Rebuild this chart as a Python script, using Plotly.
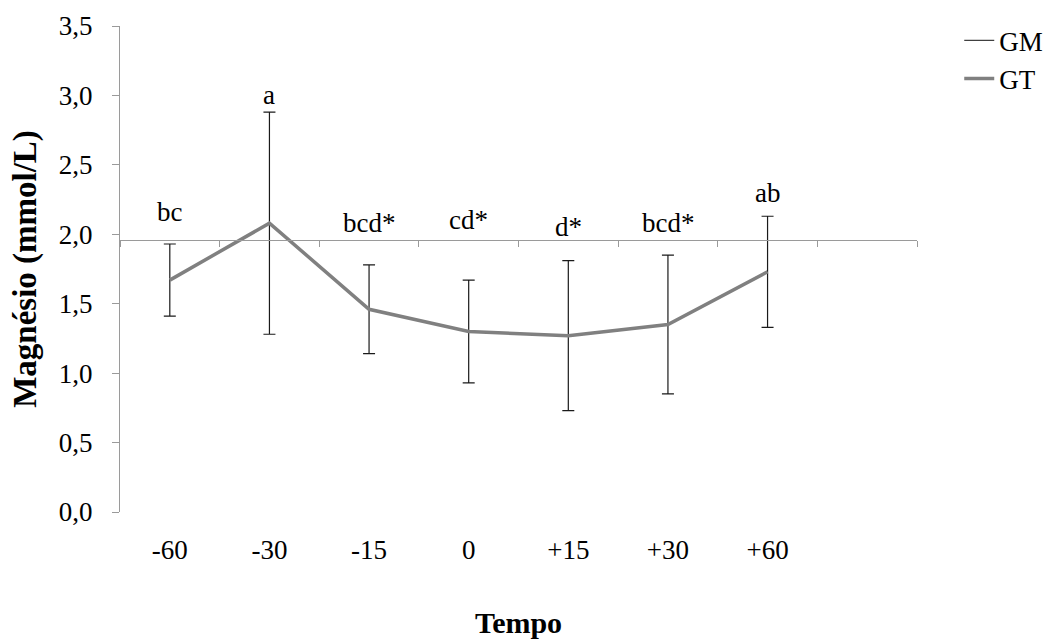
import plotly.graph_objects as go

# Sampling times (min) and magnesium means / SD for the GT group
tempos = ["-60", "-30", "-15", "0", "+15", "+30", "+60"]
gt_mean = [1.67, 2.08, 1.46, 1.30, 1.27, 1.35, 1.73]
gt_sd = [0.26, 0.80, 0.32, 0.37, 0.54, 0.50, 0.40]
letras = ["bc", "a", "bcd*", "cd*", "d*", "bcd*", "ab"]

# Vertical placement of the significance letters (mmol/L)
letra_y = [2.16, 3.00, 2.08, 2.10, 2.05, 2.08, 2.30]

Y_MAX = 3.5
X_CROSS = 1.96          # value where the category axis crosses the y axis
N_SLOTS = len(tempos) + 1  # one empty slot after +60

FONT = "Liberation Serif"
AXIS_GRAY = "#9a9a9a"
FS = 27
FS_TITLE = 30

xs = list(range(len(tempos)))

fig = go.Figure()

# GM: legend entry only
fig.add_trace(go.Scatter(
    x=[None], y=[None], mode="lines", name="GM",
    line=dict(color="#404040", width=1.3),
    xaxis="x", yaxis="y",
))

fig.add_trace(go.Scatter(
    x=xs, y=gt_mean, mode="lines", name="GT",
    line=dict(color="#808080", width=3.5),
    error_y=dict(type="data", array=gt_sd, visible=True,
                 color="#1a1a1a", thickness=1.2, width=6),
    xaxis="x2", yaxis="y",
))

for i, (t, yv) in enumerate(zip(letras, letra_y)):
    fig.add_annotation(x=i, y=yv, text=t, showarrow=False,
                       xref="x", yref="y",
                       font=dict(family=FONT, size=FS, color="#000"))

x_range = [-0.5, N_SLOTS - 0.5]
boundaries = [k - 0.5 for k in range(N_SLOTS + 1)]

fig.update_layout(
    width=1061, height=639,
    margin=dict(l=120, r=144, t=26, b=127, autoexpand=False),
    paper_bgcolor="white", plot_bgcolor="white",
    separators=", ",
    font=dict(family=FONT, size=FS, color="#000"),
    showlegend=True,
    legend=dict(x=1.053, y=1.02, xanchor="left", yanchor="top",
                font=dict(family=FONT, size=FS, color="#000"),
                bgcolor="rgba(0,0,0,0)", tracegroupgap=0),
    xaxis=dict(
        range=x_range, tickmode="array", tickvals=xs, ticktext=tempos,
        showline=False, showgrid=False, zeroline=False,
        ticks="outside", ticklen=14, tickcolor="rgba(0,0,0,0)",
        tickfont=dict(family=FONT, size=FS),
        title=dict(text="<b>Tempo</b>", standoff=50,
                   font=dict(family=FONT, size=FS_TITLE)),
        automargin=False,
    ),
    xaxis2=dict(
        range=x_range, overlaying="x", anchor="free",
        position=X_CROSS / Y_MAX,
        tickmode="array", tickvals=boundaries,
        showticklabels=False, showline=True, linecolor=AXIS_GRAY,
        linewidth=1.3, ticks="outside", ticklen=6, tickcolor=AXIS_GRAY,
        tickwidth=1.3, showgrid=False, zeroline=False,
    ),
    yaxis=dict(
        range=[0, Y_MAX], dtick=0.5, tick0=0, tickformat=".1f",
        showline=True, linecolor=AXIS_GRAY, linewidth=1.3,
        ticks="outside", ticklen=7, tickcolor=AXIS_GRAY, tickwidth=1.3,
        showgrid=False, zeroline=False,
        tickfont=dict(family=FONT, size=FS),
        ticklabelstandoff=14,
        title=dict(text="<b>Magnésio (mmol/L)</b>", standoff=12,
                   font=dict(family=FONT, size=33)),
        automargin=False,
    ),
)

fig.write_html("out.html")
